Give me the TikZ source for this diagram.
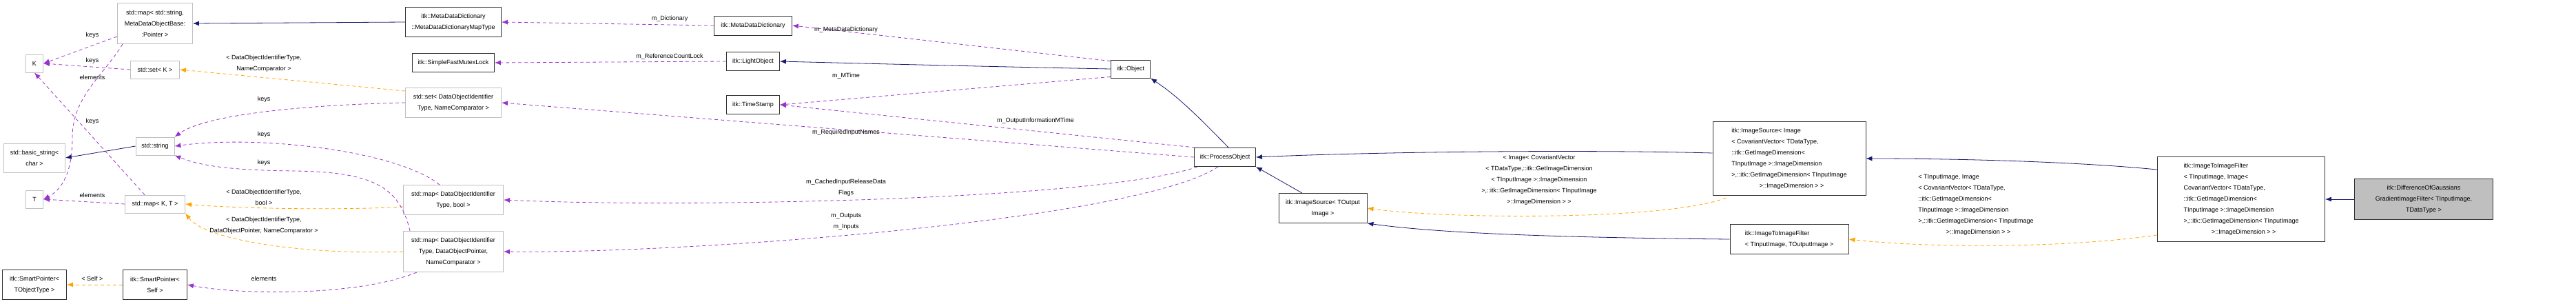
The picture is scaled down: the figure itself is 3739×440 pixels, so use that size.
\documentclass[tikz,border=0pt]{standalone}
\usepackage{fontspec}
\setmainfont{Liberation Sans}
\usetikzlibrary{arrows.meta}
\definecolor{inhcol}{HTML}{191970}
\definecolor{usecol}{HTML}{9A32CD}
\definecolor{tplcol}{HTML}{FFA500}
\definecolor{extcol}{HTML}{BFBFBF}
\tikzset{
  cls/.style={draw=black!80, line width=0.9pt, fill=white, inner sep=1pt, align=center,
    font=\fontsize{9}{16}\selectfont},
  ext/.style={cls, draw=extcol},
  lbl/.style={inner sep=0pt, align=center, font=\fontsize{9}{16}\selectfont},
  inh/.style={draw=inhcol, line width=0.8pt, -{Latex[length=9pt,width=7pt]}},
  use/.style={draw=usecol, line width=0.8pt, dash pattern=on 5pt off 4pt, -{Latex[length=9pt,width=7pt]}},
  tpl/.style={draw=tplcol, line width=0.8pt, dash pattern=on 5pt off 4pt, -{Latex[length=9pt,width=7pt]}}
}
\begin{document}
\begin{tikzpicture}[x=1pt,y=-1pt]
        \useasboundingbox (0,0) rectangle (3739,440);
        % std containers
        \node[ext, minimum width=109, minimum height=59] (mapStr) at (225,34) {std::map< std::string,\\ MetaDataObjectBase:\\ :Pointer >};
        \node[ext, minimum width=25, minimum height=26] (K) at (50,92) {K};
        \node[ext, minimum width=71, minimum height=26] (setK) at (225,101) {std::set< K >};
        \node[ext, minimum width=89, minimum height=42] (basicStr) at (50,229) {std::basic\_string<\\ char >};
        \node[ext, minimum width=25, minimum height=26] (T) at (50,289) {T};
        \node[ext, minimum width=56, minimum height=26] (string) at (225,212) {std::string};
        \node[ext, minimum width=87, minimum height=26] (mapKT) at (225,296) {std::map< K, T >};
        \node[cls, minimum width=93, minimum height=43] (spT) at (50,413) {itk::SmartPointer<\\ TObjectType >};
        \node[cls, minimum width=93, minimum height=43] (spSelf) at (225,413) {itk::SmartPointer<\\ Self >};
        \node[cls, minimum width=139, minimum height=43] (mddMap) at (658,32) {itk::MetaDataDictionary\\ ::MetaDataDictionaryMapType};
        \node[cls, minimum width=119, minimum height=27] (mutex) at (658,91) {itk::SimpleFastMutexLock};
        \node[ext, minimum width=139, minimum height=43] (setDOI) at (658,149) {std::set< DataObjectIdentifier\\ Type, NameComparator >};
        \node[ext, minimum width=145, minimum height=43] (mapBool) at (658,290) {std::map< DataObjectIdentifier\\ Type, bool >};
        \node[ext, minimum width=145, minimum height=59] (mapPtr) at (658,365) {std::map< DataObjectIdentifier\\ Type, DataObjectPointer,\\ NameComparator >};
        % itk classes
        \node[cls, minimum width=113, minimum height=28] (mdd) at (1093,37) {itk::MetaDataDictionary};
        \node[cls, minimum width=77, minimum height=27] (light) at (1093,89) {itk::LightObject};
        \node[cls, minimum width=77, minimum height=27] (time) at (1093,152) {itk::TimeStamp};
        \node[cls, minimum width=57, minimum height=26] (object) at (1641,100) {itk::Object};
        \node[cls, minimum width=89, minimum height=27] (process) at (1778,228) {itk::ProcessObject};
        \node[cls, minimum width=128, minimum height=43] (imgSrcOut) at (1920,302) {itk::ImageSource< TOutput\\ Image >};
        \node[cls, minimum width=222, minimum height=107, align=left] (imgSrcImg) at (2597,230) {itk::ImageSource< Image\\ < CovariantVector< TDataType,\\ ::itk::GetImageDimension<\\ TInputImage >::ImageDimension\\ >,::itk::GetImageDimension< TInputImage\\ \hspace{4.5em}>::ImageDimension > >};
        \node[cls, minimum width=172, minimum height=43, align=left] (i2iIn) at (2597,347) {itk::ImageToImageFilter\\ < TInputImage, TOutputImage >};
        \node[cls, minimum width=243, minimum height=123, align=left] (i2iImg) at (3253,289) {itk::ImageToImageFilter\\ < TInputImage, Image<\\ CovariantVector< TDataType,\\ ::itk::GetImageDimension<\\ TInputImage >::ImageDimension\\ >,::itk::GetImageDimension< TInputImage\\ \hspace{4.5em}>::ImageDimension > >};
        \node[cls, fill=extcol, minimum width=201, minimum height=59] (dog) at (3518,289) {itk::DifferenceOfGaussians\\ GradientImageFilter< TInputImage,\\ TDataType >};
        % inheritance
        \draw[inh] (mddMap.west) -- (mapStr.east);
        \draw[inh] (string.west) -- (basicStr.east);
        \draw[inh] (object.west) .. controls (1450,97) and (1250,92) .. (light.east);
        \draw[inh] (process.north west) ++(50,0) coordinate (pTop) .. controls (1740,170) and (1710,140) .. (object.south east);
        \draw[inh] (imgSrcOut.north) ++(-30,0) coordinate (isTop) -- (process.south east);
        \draw[inh] (imgSrcImg.west) ++(0,-8) coordinate (iiL) .. controls (2300,217) and (2000,220) .. (process.east);
        \draw[inh] (i2iIn.west) .. controls (2300,345) and (2100,340) .. (imgSrcOut.south east);
        \draw[inh] (i2iImg.north west) ++(0,19) coordinate (fiL) .. controls (3020,235) and (2850,230) .. (imgSrcImg.east);
        \draw[inh] (dog.west) -- (i2iImg.east);
        % template instances
        \draw[tpl] (spSelf.west) -- (spT.east);
        \draw[tpl] (setDOI.north west) ++(0,5) coordinate (sdL) -- (setK.east);
        \draw[tpl] (mapBool.west) ++(0,10) coordinate (mbL) .. controls (500,305) and (350,303) .. (mapKT.east);
        \draw[tpl] (mapPtr.west) .. controls (450,370) and (300,350) .. (mapKT.south east);
        \draw[tpl] (imgSrcImg.south west) ++(20,3) coordinate (isB) .. controls (2420,320) and (2100,318) .. (imgSrcOut.east);
        \draw[tpl] (i2iImg.south west) ++(0,-10) coordinate (fiB) .. controls (3000,360) and (2800,360) .. (i2iIn.east);
        % members
        \draw[use] (mapStr.west) ++(0,19) coordinate (msL) -- (K.east);
        \draw[use] (setK.west) -- (K.east);
        \draw[use] (mapStr.south west) ++(8,0) coordinate (msB) .. controls (150,110) and (105,140) .. (105,200) .. controls (105,250) and (90,275) .. (T.east);
        \draw[use] (mapKT.north) ++(-15,0) coordinate (mkT) -- (K.south);
        \draw[use] (mapKT.west) -- (T.east);
        \draw[use] (setDOI.west) .. controls (450,152) and (300,165) .. (string.north east);
        \draw[use] (mapBool.north) ++(-20,0) coordinate (mbT) .. controls (580,220) and (380,195) .. (string.east);
        \draw[use] (mapPtr.north west) ++(10,0) coordinate (mpT) .. controls (580,270) and (540,250) .. (430,248) .. controls (330,247) and (290,240) .. (string.south east);
        \draw[use] (mapPtr.south west) ++(20,0) coordinate (mpB) .. controls (520,430) and (350,428) .. (spSelf.east);
        \draw[use] (mdd.west) -- (mddMap.east);
        \draw[use] (light.west) -- (mutex.east);
        \draw[use] (object.north west) ++(0,2) coordinate (oL1) -- (mdd.east);
        \draw[use] (object.south west) ++(0,-2) coordinate (oL2) -- (time.east);
        \draw[use] (process.north west) ++(2,0) coordinate (pL1) -- (time.east);
        \draw[use] (process.west) -- (setDOI.east);
        \draw[use] (process.south west) ++(5,0) coordinate (pL2) .. controls (1600,290) and (1000,302) .. (mapBool.east);
        \draw[use] (process.south) ++(-10,0) coordinate (pL3) .. controls (1650,320) and (1000,368) .. (mapPtr.east);
        % labels
        \node[lbl] (lKeys1) at (134,51) {keys};
        \node[lbl] (lKeys2) at (134,88) {keys};
        \node[lbl] (lElem1) at (134,112) {elements};
        \node[lbl] (lKeys3) at (134,176) {keys};
        \node[lbl] (lElem2) at (134,283) {elements};
        \node[lbl] (lSelf) at (134,404) {< Self >};
        \node[lbl] (lSet) at (383,92) {< DataObjectIdentifierType,\\ NameComparator >};
        \node[lbl] (lKeys4) at (383,144) {keys};
        \node[lbl] (lKeys5) at (383,195) {keys};
        \node[lbl] (lKeys6) at (383,236) {keys};
        \node[lbl] (lBool) at (383,286) {< DataObjectIdentifierType,\\ bool >};
        \node[lbl] (lPtr) at (383,327) {< DataObjectIdentifierType,\\ DataObjectPointer, NameComparator >};
        \node[lbl] (lElem3) at (383,404) {elements};
        \node[lbl] (lDict) at (972,27) {m\_Dictionary};
        \node[lbl] (lLock) at (972,82) {m\_ReferenceCountLock};
        \node[lbl] (lMdd) at (1228,43) {m\_MetaDataDictionary};
        \node[lbl] (lMTime) at (1228,110) {m\_MTime};
        \node[lbl] (lOInfo) at (1503,175) {m\_OutputInformationMTime};
        \node[lbl] (lReq) at (1228,192) {m\_RequiredInputNames};
        \node[lbl] (lCache) at (1228,272) {m\_CachedInputReleaseData\\ Flags};
        \node[lbl] (lIO) at (1228,321) {m\_Outputs\\ m\_Inputs};
        \node[lbl] (lSrc) at (2234,261) {< Image< CovariantVector\\ < TDataType,::itk::GetImageDimension\\ < TInputImage >::ImageDimension\\ >,::itk::GetImageDimension< TInputImage\\ >::ImageDimension > >};
        \node[lbl, align=left] (lFlt) at (2868,297) {< TInputImage, Image\\ < CovariantVector< TDataType,\\ ::itk::GetImageDimension<\\ TInputImage >::ImageDimension\\ >,::itk::GetImageDimension< TInputImage\\ \hspace{4.5em}>::ImageDimension > >};
      \end{tikzpicture}
\end{document}
